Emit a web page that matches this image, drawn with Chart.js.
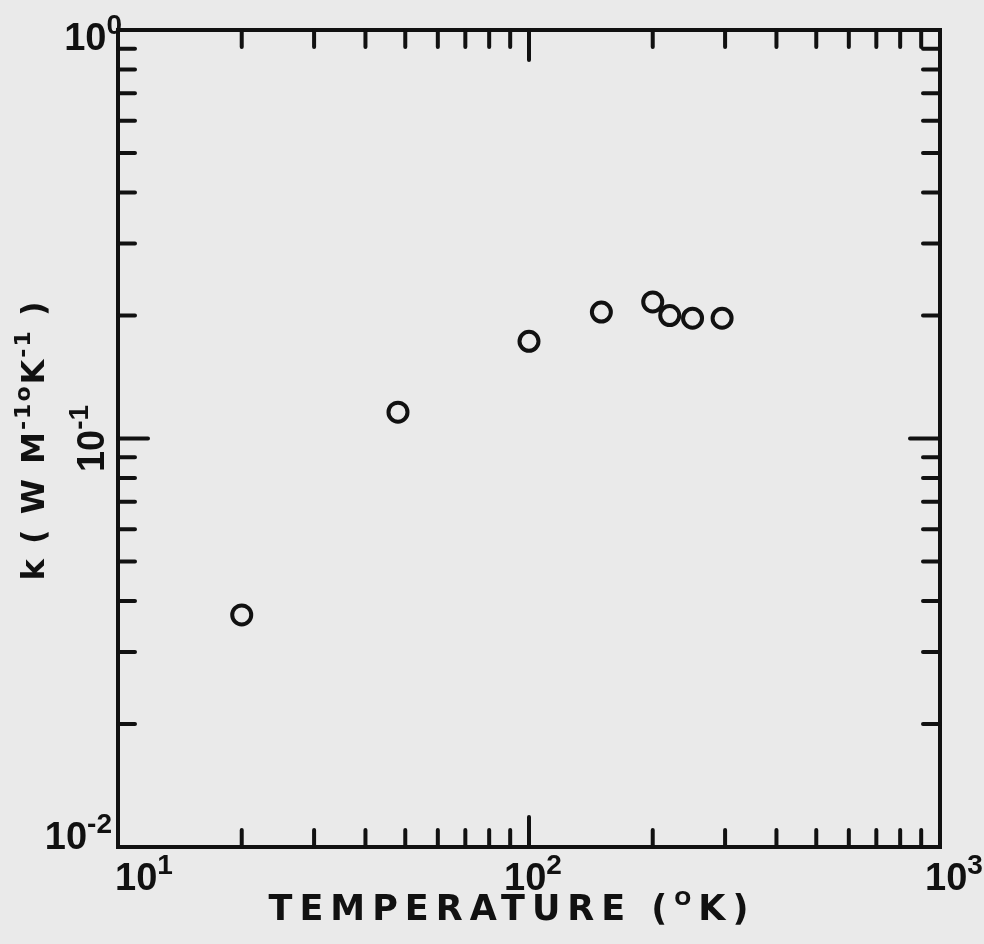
<!DOCTYPE html>
<html>
<head>
<meta charset="utf-8">
<script src="https://cdn.jsdelivr.net/npm/chart.js@4.4.1/dist/chart.umd.min.js"></script>
<style>
  html, body { margin: 0; padding: 0; background: #eaeaea; }
  #wrap { width: 984px; height: 944px; position: relative; }
</style>
</head>
<body>
<div id="wrap"><canvas id="chart1"></canvas></div>
<script>
// Measured points (temperature in K, thermal conductivity k)
const temperature = [20, 48, 100, 150, 200, 220, 250, 295];
const conductivity = [0.037, 0.116, 0.173, 0.204, 0.216, 0.2, 0.197, 0.197];

// Tick values
const xMajorTicks = [100];
const xMinorTicks = [20, 30, 40, 50, 60, 70, 80, 90, 200, 300, 400, 500, 600, 700, 800, 900];
const yMajorTicks = [0.1];
const yMinorTicks = [0.02, 0.03, 0.04, 0.05, 0.06, 0.07, 0.08, 0.09, 0.2, 0.3, 0.4, 0.5, 0.6, 0.7, 0.8, 0.9];
const xTickLabels = [[10, '1'], [100, '2'], [1000, '3']];
const yTickLabels = [[1, '0'], [0.1, '-1'], [0.01, '-2']];

const FONT = '"DejaVu Sans", sans-serif';
const NUMFONT = '"Liberation Sans", sans-serif';

// draw a list of [text, sup] runs; returns total width
function runsWidth(ctx, runs, size, supSize, family) {
    let w = 0;
    runs.forEach(r => {
        ctx.font = 'bold ' + (r[1] ? supSize : size) + 'px ' + family;
        w += ctx.measureText(r[0]).width;
    });
    return w;
}

function drawRuns(ctx, runs, x, y, align, size, supSize, raise, family) {
    family = family || FONT;
    const w = runsWidth(ctx, runs, size, supSize, family);
    let cx = x;
    if (align === 'center') cx = x - w / 2;
    if (align === 'right') cx = x - w;
    ctx.textAlign = 'left';
    ctx.textBaseline = 'alphabetic';
    runs.forEach(r => {
        ctx.font = 'bold ' + (r[1] ? supSize : size) + 'px ' + family;
        ctx.fillText(r[0], cx, r[1] ? y - raise : y);
        cx += ctx.measureText(r[0]).width;
    });
}

const framePlugin = {
    id: 'frame',
    afterDraw(chart) {
        const ctx = chart.ctx;
        const a = chart.chartArea;
        const xs = chart.scales.x;
        const ys = chart.scales.y;
        ctx.save();
        ctx.strokeStyle = '#111';
        ctx.fillStyle = '#111';
        ctx.lineWidth = 4;
        ctx.lineCap = 'round';
        ctx.strokeRect(a.left, a.top, a.right - a.left, a.bottom - a.top);

        function xTick(v, len) {
            const px = xs.getPixelForValue(v);
            ctx.beginPath();
            ctx.moveTo(px, a.bottom); ctx.lineTo(px, a.bottom - len);
            ctx.moveTo(px, a.top); ctx.lineTo(px, a.top + len);
            ctx.stroke();
        }
        function yTick(v, len) {
            const py = ys.getPixelForValue(v);
            ctx.beginPath();
            ctx.moveTo(a.left, py); ctx.lineTo(a.left + len, py);
            ctx.moveTo(a.right, py); ctx.lineTo(a.right - len, py);
            ctx.stroke();
        }
        xMinorTicks.forEach(v => xTick(v, 17));
        xMajorTicks.forEach(v => xTick(v, 30));
        yMinorTicks.forEach(v => yTick(v, 17));
        yMajorTicks.forEach(v => yTick(v, 30));

        // x tick labels (hand lettered, so offsets differ a little)
        xTickLabels.forEach(t => {
            const px = xs.getPixelForValue(t[0]);
            const runs = [['10', false], [t[1], true]];
            if (t[0] === 10) {
                drawRuns(ctx, runs, px - 3, a.bottom + 43, 'left', 38, 28, 16, NUMFONT);
            } else {
                drawRuns(ctx, runs, px + (t[0] === 1000 ? 14 : 4), a.bottom + 43, 'center', 38, 28, 16, NUMFONT);
            }
        });
        // y tick labels
        yTickLabels.forEach(t => {
            const py = ys.getPixelForValue(t[0]);
            const runs = [['10', false], [t[1], true]];
            if (t[0] === 0.1) {
                ctx.save();
                ctx.translate(a.left - 26, py);
                ctx.rotate(-Math.PI / 2);
                drawRuns(ctx, runs, 0, 12, 'center', 38, 28, 16, NUMFONT);
                ctx.restore();
            } else if (t[0] === 1) {
                drawRuns(ctx, runs, a.left + 4, py + 20, 'right', 38, 28, 16, NUMFONT);
            } else {
                drawRuns(ctx, runs, a.left - 6, py + 2, 'right', 38, 28, 16, NUMFONT);
            }
        });

        // axis titles
        ctx.letterSpacing = '7px';
        drawRuns(ctx, [['TEMPERATURE (', false], ['O', true], ['K)', false]],
            512, a.bottom + 73, 'center', 35, 20, 15);
        ctx.letterSpacing = '2px';
        ctx.save();
        ctx.translate(44, 440);
        ctx.rotate(-Math.PI / 2);
        drawRuns(ctx, [['k ( W M', false], ['-1', true], ['o', true], ['K', false], ['-1', true], [' )', false]],
            0, 0, 'center', 32, 22, 14);
        ctx.restore();
        ctx.restore();
    }
};

document.addEventListener('DOMContentLoaded', function() {
    const canvas = document.getElementById('chart1');
    canvas.width = 984;
    canvas.height = 944;
    new Chart(canvas, {
        type: 'scatter',
        data: {
            datasets: [{
                data: temperature.map((t, i) => ({ x: t, y: conductivity[i] })),
                pointStyle: 'circle',
                pointRadius: 9.5,
                pointBorderWidth: 4,
                borderColor: '#111',
                backgroundColor: 'rgba(0,0,0,0)'
            }]
        },
        options: {
            responsive: false,
            animation: false,
            layout: { padding: { left: 118, right: 44, top: 30, bottom: 97 } },
            plugins: { legend: { display: false }, tooltip: { enabled: false } },
            scales: {
                x: { type: 'logarithmic', min: 10, max: 1000, display: false },
                y: { type: 'logarithmic', min: 0.01, max: 1, display: false }
            }
        },
        plugins: [framePlugin]
    });
});
</script>
</body>
</html>
